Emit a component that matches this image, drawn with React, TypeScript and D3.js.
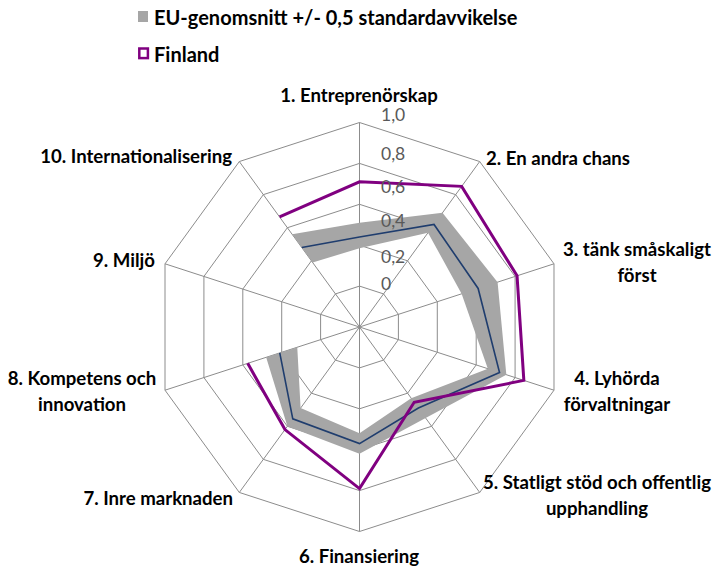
import React from "react";
import * as d3 from "d3";

const CATEGORIES: string[][] = [
  ["1. Entreprenörskap"],
  ["2. En andra chans"],
  ["3. tänk småskaligt", "först"],
  ["4. Lyhörda", "förvaltningar"],
  ["5. Statligt stöd och offentlig", "upphandling"],
  ["6. Finansiering"],
  ["7. Inre marknaden"],
  ["8. Kompetens och", "innovation"],
  ["9. Miljö"],
  ["10. Internationalisering"],
];

const FINLAND: (number | null)[] = [0.71, 0.85, 0.81, 0.845, 0.455, 0.79, 0.62, 0.575, null, 0.665];
const EU_AVG: (number | null)[] = [0.44, 0.62, 0.61, 0.72, 0.49, 0.57, 0.555, 0.41, null, 0.48];
const EU_UPPER: (number | null)[] = [0.51, 0.69, 0.71, 0.755, 0.55, 0.62, 0.6, 0.48, null, 0.56];
const EU_LOWER: (number | null)[] = [0.385, 0.57, 0.525, 0.66, 0.43, 0.52, 0.49, 0.32, null, 0.39];

const TICKS = [0, 0.2, 0.4, 0.6, 0.8, 1.0];
const TICK_LABELS = ["0", "0,2", "0,4", "0,6", "0,8", "1,0"];

const LEGEND = ["EU-genomsnitt +/- 0,5 standardavvikelse", "Finland"];

// layout (not data)
const W = 713;
const H = 569;
const CX = 359.5;
const CY = 327;
const R = 204.5;
const N = 10;
const FONT = "Lato, 'Open Sans', sans-serif";

const LABEL_LAYOUT: { anchor: string; x: number; y: number }[] = [
  { anchor: "middle", x: 359, y: 102 },
  { anchor: "start", x: 486, y: 165 },
  { anchor: "middle", x: 637, y: 256 },
  { anchor: "middle", x: 617, y: 385 },
  { anchor: "middle", x: 597, y: 489 },
  { anchor: "middle", x: 359, y: 563 },
  { anchor: "end", x: 233, y: 505 },
  { anchor: "middle", x: 82, y: 385 },
  { anchor: "end", x: 155, y: 267 },
  { anchor: "end", x: 232, y: 163 },
];
const LINE_GAP = 26;

export default function App() {
  const r = d3.scaleLinear().domain([0, 1]).range([0, R]);
  const angle = (i: number) => (i * 2 * Math.PI) / N;
  const pt = (i: number, v: number): [number, number] => [
    CX + r(v) * Math.sin(angle(i)),
    CY - r(v) * Math.cos(angle(i)),
  ];

  // series order: starts at axis 10 (drawn at -36deg), then 1..9
  const order = [9, 0, 1, 2, 3, 4, 5, 6, 7, 8];
  const seqAngle = (pos: number) => ((pos - 1) * 2 * Math.PI) / N;

  const lineFor = (vals: (number | null)[]) =>
    d3
      .lineRadial<number>()
      .defined((idx) => vals[idx] != null)
      .angle((_, pos) => seqAngle(pos))
      .radius((idx) => r(vals[idx] as number))
      .curve(d3.curveLinear)(order);

  const band = d3
    .areaRadial<number>()
    .defined((idx) => EU_UPPER[idx] != null && EU_LOWER[idx] != null)
    .angle((_, pos) => seqAngle(pos))
    .innerRadius((idx) => r(EU_LOWER[idx] as number))
    .outerRadius((idx) => r(EU_UPPER[idx] as number))
    .curve(d3.curveLinear)(order);

  const ring = (v: number) =>
    d3.range(N).map((i) => pt(i, v).join(",")).join(" ");

  const tickY = d3
    .scaleLinear()
    .domain([0, 0.2, 0.4, 0.6, 0.8, 1.0])
    .range([290, 263, 227, 193, 160, 121]);

  return (
    <svg
      width={W}
      height={H}
      style={{ position: "absolute", left: 0, top: 0, background: "#fff" }}
      fontFamily={FONT}
    >
      <rect x={0} y={0} width={W} height={H} fill="#fff" />
      {/* grid */}
      <g stroke="#8C8C8C" strokeWidth={1} fill="none">
        {TICKS.filter((t) => t > 0).map((t) => (
          <polygon key={t} points={ring(t)} />
        ))}
        {d3.range(N).map((i) => {
          const [x, y] = pt(i, 1);
          return <line key={i} x1={CX} y1={CY} x2={x} y2={y} />;
        })}
      </g>
      {/* band */}
      <path d={band || ""} transform={`translate(${CX},${CY})`} fill="#A6A6A6" stroke="none" />
      {/* EU average */}
      <path
        d={lineFor(EU_AVG) || ""}
        transform={`translate(${CX},${CY})`}
        fill="none"
        stroke="#1F3D6E"
        strokeWidth={1.6}
        strokeLinejoin="miter"
      />
      {/* Finland */}
      <path
        d={lineFor(FINLAND) || ""}
        transform={`translate(${CX},${CY})`}
        fill="none"
        stroke="#800080"
        strokeWidth={3}
        strokeLinejoin="miter"
      />
      {/* tick labels */}
      <g fill="#595959" fontSize={17.5}>
        {TICKS.map((t, k) => (
          <text key={t} x={381} y={tickY(t)}>
            {TICK_LABELS[k]}
          </text>
        ))}
      </g>
      {/* category labels */}
      <g fill="#000" fontSize={18.6} fontWeight="bold">
        {CATEGORIES.map((lines, i) => (
          <text key={i} textAnchor={LABEL_LAYOUT[i].anchor} x={LABEL_LAYOUT[i].x} y={LABEL_LAYOUT[i].y}>
            {lines.map((ln, j) => (
              <tspan key={j} x={LABEL_LAYOUT[i].x} dy={j === 0 ? 0 : LINE_GAP}>
                {ln}
              </tspan>
            ))}
          </text>
        ))}
      </g>
      {/* legend */}
      <g fontSize={20} fontWeight="bold" fill="#000">
        <rect x={138} y={11} width={10} height={11} fill="#A6A6A6" />
        <text x={154} y={24.5}>
          {LEGEND[0]}
        </text>
        <rect x={139.3} y={48.5} width={8.6} height={9.6} fill="#fff" stroke="#800080" strokeWidth={2.5} />
        <text x={154} y={62}>
          {LEGEND[1]}
        </text>
      </g>
    </svg>
  );
}
